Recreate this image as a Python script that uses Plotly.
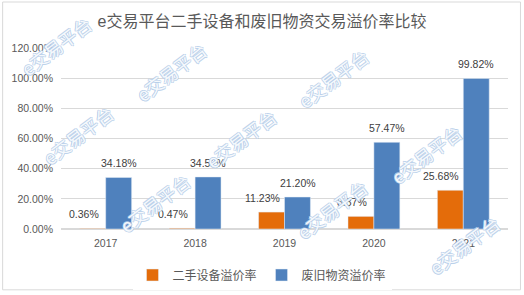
import plotly.graph_objects as go

years = ["2017", "2018", "2019", "2020", "2021"]
second_hand = [0.0036, 0.0047, 0.1123, 0.0837, 0.2568]
scrap = [0.3418, 0.3452, 0.2120, 0.5747, 0.9982]
series_names = ["二手设备溢价率", "废旧物资溢价率"]
title_text = "e交易平台二手设备和废旧物资交易溢价率比较"
watermark_text = "e交易平台"

ORANGE = "#E46C0A"
BLUE = "#4F81BD"
FONT = "Liberation Sans, Noto Sans CJK SC, sans-serif"

W, H = 524, 295
ML, MR, MT, MB = 60, 16, 48, 64
PW, PH = W - ML - MR, H - MT - MB

fig = go.Figure()
fig.add_trace(go.Bar(x=years, y=second_hand, name=series_names[0], marker_color=ORANGE))
fig.add_trace(go.Bar(x=years, y=scrap, name=series_names[1], marker_color=BLUE))

annotations = []
# category axis: annotation x uses the category serial number
for i, v in enumerate(second_hand):
    annotations.append(dict(x=i, y=v, xref="x", yref="y", text=f"{v*100:.2f}%",
                            showarrow=False, xshift=-22, yshift=14, yanchor="middle",
                            font=dict(family=FONT, size=10.5, color="#404040")))
for i, v in enumerate(scrap):
    annotations.append(dict(x=i, y=v, xref="x", yref="y", text=f"{v*100:.2f}%",
                            showarrow=False, xshift=13, yshift=14, yanchor="middle",
                            font=dict(family=FONT, size=10.5, color="#404040")))

# watermark centres in pixels
wm_px = [(55, 46), (170, 72), (77, 136), (154, 205), (333, 78), (240, 140),
         (332, 211), (426, 155), (464, 247)]
edge = "#B8CFEA"
for (px, py) in wm_px:
    annotations.append(dict(x=(px - ML) / PW, y=(MT + PH - py) / PH, xref="paper", yref="paper",
                            text=watermark_text, showarrow=False, textangle=-37,
                            font=dict(family="Noto Sans CJK SC", size=18, color="rgba(255,255,255,0.9)",
                                      shadow=f"1px 0 {edge}, -1px 0 {edge}, 0 1px {edge}, 0 -1px {edge}"),
                            xanchor="center", yanchor="middle"))

fig.update_layout(
    width=W, height=H,
    margin=dict(l=ML, r=MR, t=MT, b=MB),
    paper_bgcolor="white", plot_bgcolor="white",
    barmode="group", bargap=0.42, bargroupgap=0,
    title=dict(text=title_text, x=0.5, xref="container", xanchor="center",
               y=1 - 21 / H, yref="container", yanchor="middle",
               font=dict(family=FONT, size=16, color="#595959")),
    xaxis=dict(type="category", range=[-0.5, 4.5], showgrid=False, showline=False, ticks="",
               ticklabelstandoff=6,
               tickfont=dict(family=FONT, size=10.5, color="#595959")),
    yaxis=dict(range=[0, 1.2], dtick=0.2, tickformat=".2%", showgrid=True,
               gridcolor="#D9D9D9", gridwidth=1, zeroline=True, zerolinecolor="#D9D9D9",
               showline=False, ticks="", ticklabelstandoff=7,
               tickfont=dict(family=FONT, size=10.5, color="#595959")),
    legend=dict(orientation="h", xref="container", x=0.5, xanchor="center",
                yref="container", y=1 - 275 / H, yanchor="middle",
                font=dict(family=FONT, size=12, color="#595959"),
                itemwidth=30, traceorder="normal"),
    annotations=annotations,
    shapes=[dict(type="rect", xref="paper", yref="paper",
                 x0=(1.5 - ML) / PW, x1=(520.5 - ML) / PW,
                 y0=(MT + PH - 292.5) / PH, y1=(MT + PH - 1.5) / PH,
                 line=dict(color="#D9D9D9", width=1), layer="below")],
)

fig.write_html("out.html")
